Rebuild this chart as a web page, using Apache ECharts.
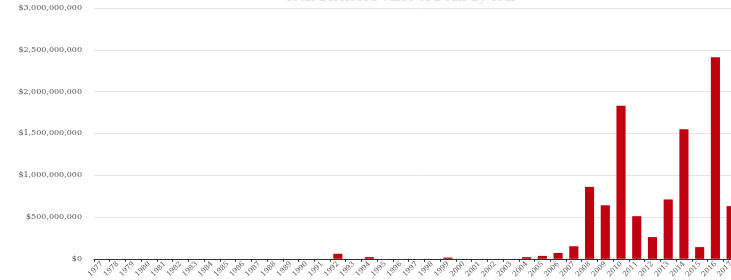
<!DOCTYPE html>
<html>
<head>
<meta charset="utf-8">
<script src="https://cdn.jsdelivr.net/npm/echarts@6/dist/echarts.min.js"></script>
<style>
  html, body { margin: 0; padding: 0; background: #fff; overflow: hidden; }
  /* the plot runs a little past the right edge of the picture */
  #chart { width: 745px; height: 280px; }
</style>
</head>
<body>
<div id="chart"></div>
<script>
// years on the x axis
var years = [];
for (var y = 1977; y <= 2017; y++) { years.push(String(y)); }

// dollar value per year, in billions
var valuesBn = [
    0, 0, 0, 0, 0, 0, 0, 0, 0, 0,          // 1977-1986
    0, 0, 0, 0, 0, 0.06, 0, 0.02, 0, 0,    // 1987-1996
    0, 0, 0.015, 0, 0, 0, 0, 0.02, 0.035, 0.07, // 1997-2006
    0.15, 0.86, 0.64, 1.83, 0.51, 0.26, 0.71, 1.55, 0.14, 2.41, // 2007-2016
    0.63                                   // 2017
];

var yTicks = [0, 500000000, 1000000000, 1500000000, 2000000000, 2500000000, 3000000000];

(function () {
    var chart = echarts.init(document.getElementById('chart'));

    var data = valuesBn.map(function (v) { return v * 1e9; });

    function money(v) {
        return '$' + String(v).replace(/\B(?=(\d{3})+(?!\d))/g, ',');
    }

    var option = {
        animation: false,
        backgroundColor: '#fff',
        title: {
            text: 'Total Disclosed Value of Deals by Year',
            left: 280,
            top: -13,
            textStyle: { color: '#dcdcdc', fontSize: 12, fontWeight: 'normal', fontFamily: 'DejaVu Serif' }
        },
        grid: { left: 94, right: 6, top: 8, bottom: 18 },
        xAxis: {
            type: 'category',
            data: years,
            axisLine: { lineStyle: { color: '#333', width: 1 } },
            axisTick: { show: true, length: 3, lineStyle: { color: '#333' } },
            axisLabel: {
                interval: 0,
                rotate: 45,
                fontSize: 7,
                margin: 4,
                color: '#555',
                fontFamily: 'DejaVu Serif'
            }
        },
        yAxis: {
            type: 'value',
            min: yTicks[0],
            max: yTicks[yTicks.length - 1],
            interval: 500000000,
            axisLine: { show: false },
            axisTick: { show: false },
            splitLine: { lineStyle: { color: '#e4e4e4' } },
            axisLabel: {
                fontSize: 8,
                margin: 12,
                color: '#555',
                fontFamily: 'DejaVu Serif',
                formatter: money
            }
        },
        series: [{
            type: 'bar',
            data: data,
            barWidth: '58%',
            itemStyle: { color: '#c00010' }
        }]
    };

    chart.setOption(option);
})();
</script>
</body>
</html>
